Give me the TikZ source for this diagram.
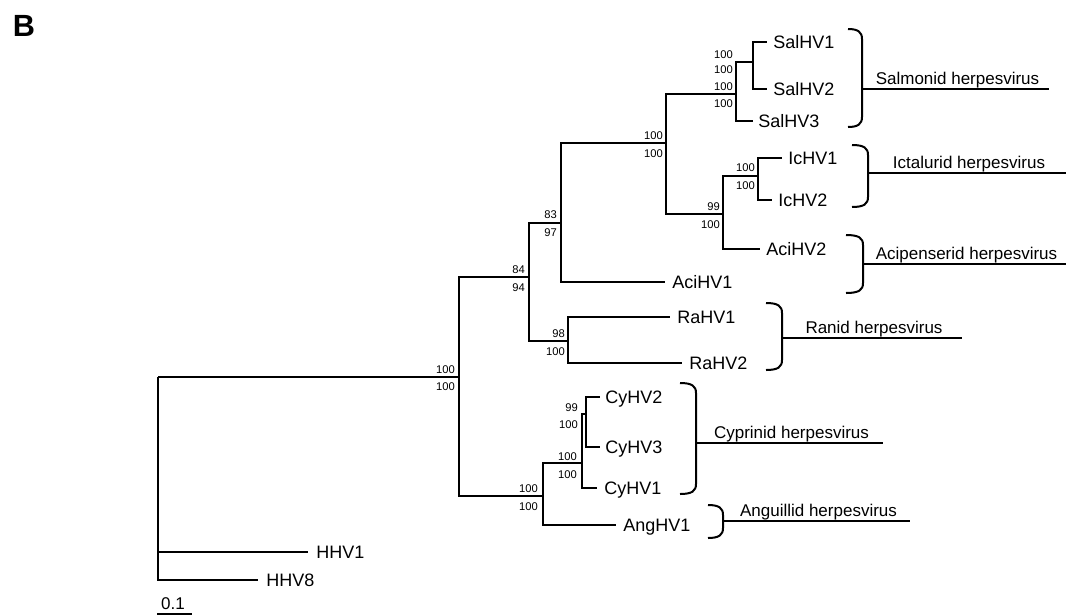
\documentclass[tikz,border=0pt]{standalone}
\usepackage{fontspec}
\setmainfont{Liberation Sans}
\usetikzlibrary{calc}
\newcommand\mkclade[8]{%
  \coordinate (#1top) at (#2,#4);
  \coordinate (#1mid) at (#3,#5);
  \coordinate (#1bot) at (#2,#6);
  \coordinate (#1end) at (#7,#5);
  \draw[brk] (#1top) .. controls (#3-4,#4) and (#3,#4+3) .. (#3,#4+10) -- (#3,#6-10) .. controls (#3,#6-3) and (#3-4,#6) .. (#1bot);
  \draw[cl] (#1mid) -- (#1end);
  \node[clade] (#1lab) at ($(#1mid)!0.5!(#1end)+(2,-11)$) {#8};
}
\begin{document}
\begin{tikzpicture}[x=0.75pt,y=-0.75pt,
  br/.style={line width=1.5pt},
  thinbr/.style={line width=1.05pt},
  brk/.style={line width=1.5pt},
  cl/.style={line width=1.25pt},
  taxon/.style={anchor=west,inner sep=0pt,font=\fontsize{13.5}{14}\selectfont,text height=9.7pt,text depth=0pt},
  boot/.style={anchor=east,inner sep=0pt,font=\fontsize{8.4}{9}\selectfont,text height=6pt,text depth=0pt},
  clade/.style={inner sep=0pt,font=\fontsize{12.75}{14}\selectfont,text height=9.1pt,text depth=0pt}]
\useasboundingbox (0,0) rectangle (1067,615);

\node[inner sep=0pt,font=\bfseries\fontsize{23}{24}\selectfont] (panel) at (24,26) {B};

% internal nodes (x of vertical, y of stem)
\coordinate (nR) at (158,377);
\coordinate (nA) at (459,377);
\coordinate (nB) at (529,277);
\coordinate (nC) at (561,223);
\coordinate (nD) at (666,143);
\coordinate (nE) at (736,94);
\coordinate (nF) at (753,62);
\coordinate (nG) at (723,214);
\coordinate (nH) at (758,176);
\coordinate (nI) at (568,341);
\coordinate (nJ) at (543,496);
\coordinate (nK) at (582,463);
\coordinate (nL) at (586,414);
% tips
\coordinate (tSal1) at (767,42);
\coordinate (tSal2) at (767,89);
\coordinate (tSal3) at (753,121);
\coordinate (tIc1) at (782,158);
\coordinate (tIc2) at (772,200);
\coordinate (tAci2) at (760,249);
\coordinate (tAci1) at (665,282);
\coordinate (tRa1) at (670,317);
\coordinate (tRa2) at (682,363);
\coordinate (tCy2) at (600,397);
\coordinate (tCy3) at (600,447);
\coordinate (tCy1) at (597,488);
\coordinate (tAng) at (616,525);
\coordinate (tHHV1) at (308,552);
\coordinate (tHHV8) at (258,580);

% branches
\draw[br] (nR) |- (nA);
\draw[thinbr] (nR) |- (tHHV1);
\draw[br] (nR) |- (tHHV8);
\draw[br] (nA) |- (nB);
\draw[br] (nA) |- (nJ);
\draw[br] (nB) |- (nC);
\draw[br] (nB) |- (nI);
\draw[br] (nC) |- (nD);
\draw[br] (nC) |- (tAci1);
\draw[br] (nD) |- (nE);
\draw[br] (nD) |- (nG);
\draw[br] (nE) |- (nF);
\draw[br] (nE) |- (tSal3);
\draw[br] (nF) |- (tSal1);
\draw[br] (nF) |- (tSal2);
\draw[br] (nG) |- (nH);
\draw[br] (nG) |- (tAci2);
\draw[br] (nH) |- (tIc1);
\draw[br] (nH) |- (tIc2);
\draw[thinbr] (nI) |- (tRa1);
\draw[thinbr] (nI) |- (tRa2);
\draw[br] (nJ) |- (nK);
\draw[br] (nJ) |- (tAng);
\draw[br] (nK) |- (nL);
\draw[br] (nK) |- (tCy1);
\draw[br] (nL) |- (tCy2);
\draw[br] (nL) |- (tCy3);

% taxon labels
\node[taxon] (lSal1) at ($(tSal1)+(6,0)$) {SalHV1};
\node[taxon] (lSal2) at ($(tSal2)+(6,0)$) {SalHV2};
\node[taxon] (lSal3) at ($(tSal3)+(5,0)$) {SalHV3};
\node[taxon] (lIc1) at ($(tIc1)+(6,0)$) {IcHV1};
\node[taxon] (lIc2) at ($(tIc2)+(6,0)$) {IcHV2};
\node[taxon] (lAci2) at ($(tAci2)+(6,0)$) {AciHV2};
\node[taxon] (lAci1) at ($(tAci1)+(7,0)$) {AciHV1};
\node[taxon] (lRa1) at ($(tRa1)+(7,0)$) {RaHV1};
\node[taxon] (lRa2) at ($(tRa2)+(7,0)$) {RaHV2};
\node[taxon] (lCy2) at ($(tCy2)+(5,0)$) {CyHV2};
\node[taxon] (lCy3) at ($(tCy3)+(5,0)$) {CyHV3};
\node[taxon] (lCy1) at ($(tCy1)+(7,0)$) {CyHV1};
\node[taxon] (lAng) at ($(tAng)+(7,0)$) {AngHV1};
\node[taxon] (lHHV1) at ($(tHHV1)+(8,0)$) {HHV1};
\node[taxon] (lHHV8) at ($(tHHV8)+(8,0)$) {HHV8};

% bootstrap values
\node[boot] (bA1) at ($(nA)+(-4,-8)$) {100};
\node[boot] (bA2) at ($(nA)+(-4,9)$) {100};
\node[boot] (bB1) at ($(nB)+(-4,-8)$) {84};
\node[boot] (bB2) at ($(nB)+(-4,10)$) {94};
\node[boot] (bC1) at ($(nC)+(-4,-9)$) {83};
\node[boot] (bC2) at ($(nC)+(-4,9)$) {97};
\node[boot] (bD1) at ($(nD)+(-3,-8)$) {100};
\node[boot] (bD2) at ($(nD)+(-3,10)$) {100};
\node[boot] (bE1) at ($(nE)+(-3,-8)$) {100};
\node[boot] (bE2) at ($(nE)+(-3,9)$) {100};
\node[boot] (bF1) at ($(nE)+(-3,-40)$) {100};
\node[boot] (bF2) at ($(nE)+(-3,-25)$) {100};
\node[boot] (bG1) at ($(nG)+(-3,-8)$) {99};
\node[boot] (bG2) at ($(nG)+(-3,10)$) {100};
\node[boot] (bH1) at ($(nH)+(-3,-9)$) {100};
\node[boot] (bH2) at ($(nH)+(-3,9)$) {100};
\node[boot] (bI1) at ($(nI)+(-3,-8)$) {98};
\node[boot] (bI2) at ($(nI)+(-3,10)$) {100};
\node[boot] (bJ1) at ($(nJ)+(-5,-8)$) {100};
\node[boot] (bJ2) at ($(nJ)+(-5,10)$) {100};
\node[boot] (bK1) at ($(nK)+(-5,-7)$) {100};
\node[boot] (bK2) at ($(nK)+(-5,11)$) {100};
\node[boot] (bL1) at ($(nL)+(-8,-7)$) {99};
\node[boot] (bL2) at ($(nL)+(-8,10)$) {100};

% clade brackets
\mkclade{sal}{848}{862}{29}{89}{127}{1049}{Salmonid herpesvirus}
\mkclade{ict}{852}{868}{145}{173}{207}{1066}{Ictalurid herpesvirus}
\mkclade{aci}{846}{863}{235}{264}{293}{1066}{Acipenserid herpesvirus}
\mkclade{ran}{766}{782}{303}{338}{370}{962}{Ranid herpesvirus}
\mkclade{cyp}{680}{696}{383}{443}{494}{883}{Cyprinid herpesvirus}
\mkclade{ang}{708}{723}{505}{521}{538}{910}{Anguillid herpesvirus}

% scale bar
\coordinate (s0) at (157,614);
\coordinate (s1) at (192,614);
\draw[line width=0.9pt] (s0) -- (s1);
\node[inner sep=0pt,font=\fontsize{12.75}{14}\selectfont,text height=9.1pt,text depth=0pt] (scl) at (173,603) {0.1};
\end{tikzpicture}
\end{document}
